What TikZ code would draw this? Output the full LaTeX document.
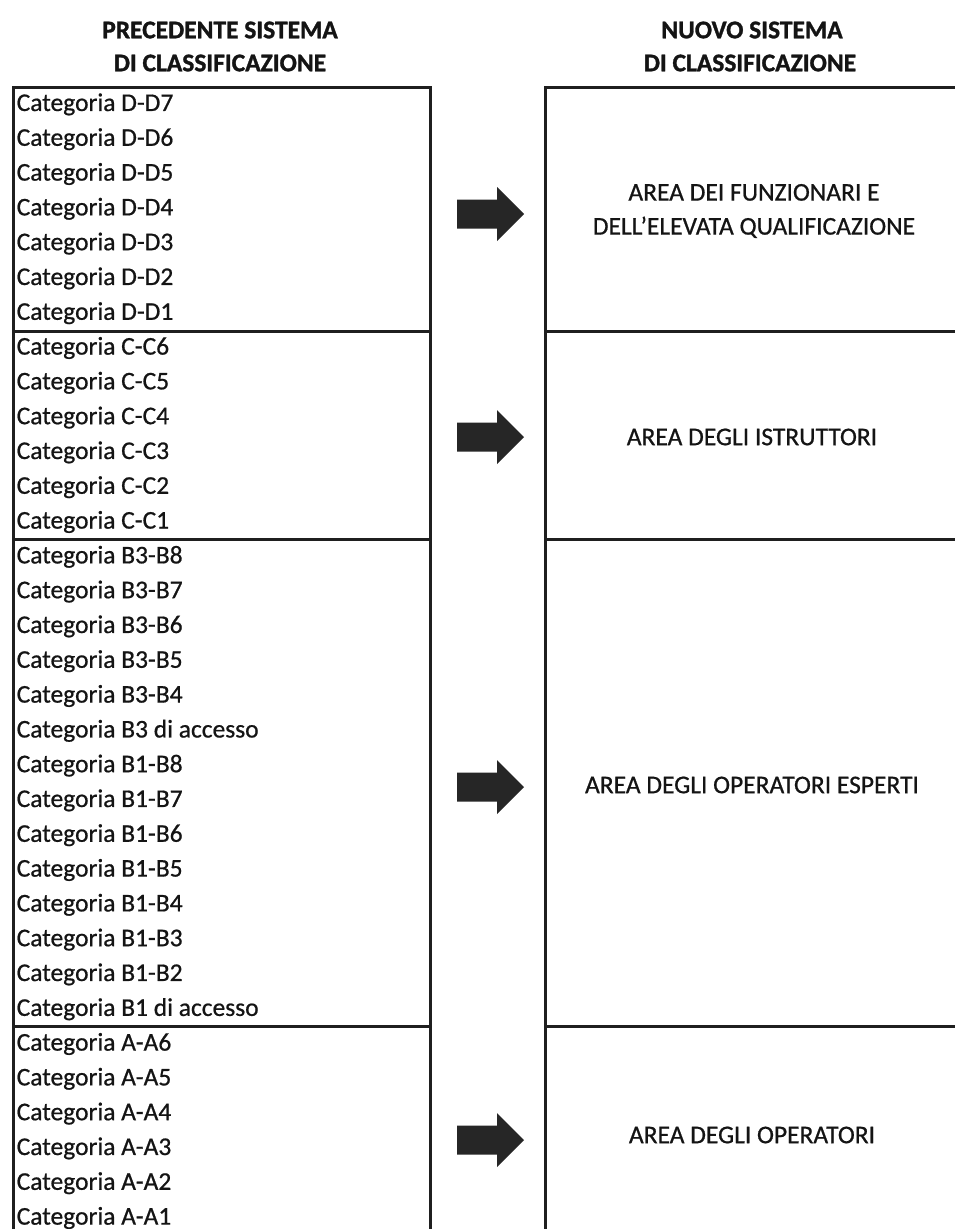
\documentclass[tikz,border=0pt]{standalone}
\usepackage{fontspec}
\setmainfont{Carlito}[FakeBold=0.7]
\newfontfamily\headfont{Carlito}[UprightFont=*-Bold, FakeBold=1.2]
\begin{document}
\begin{tikzpicture}[x=1pt,y=-1pt,
  frameline/.style={line width=3pt, draw=black!88, line cap=rect},
  item/.style={anchor=west, inner sep=0pt, text=black!92, font=\fontsize{25.5}{30}\selectfont},
  header/.style={anchor=center, inner sep=0pt, text=black!92, font=\fontsize{25.5}{30}\selectfont\headfont},
  areatext/.style={anchor=center, inner sep=0pt, align=center, text=black!92, font=\fontsize{25.5}{34}\selectfont},
  arrowfill/.style={fill=black!85}]
\useasboundingbox (0,0) rectangle (954,1229);
\fill[white] (0,0) rectangle (954,1229);
% headers
\node[header] (h1a) at (220,30) {PRECEDENTE SISTEMA};
\node[header] (h1b) at (220,63) {DI CLASSIFICAZIONE};
\node[header] (h2a) at (752,30) {NUOVO SISTEMA};
\node[header] (h2b) at (750,63) {DI CLASSIFICAZIONE};
% left frame
\draw[frameline] (13,1235) -- (13,87) -- (430,87) -- (430,1235);
\foreach \yy in {331,539,1026} \draw[frameline] (13,\yy) -- (430,\yy);
% right frame
\draw[frameline] (960,87) -- (545,87) -- (545,1235);
\foreach \yy in {331,539,1026} \draw[frameline] (545,\yy) -- (960,\yy);
% items
\foreach \t [count=\i from 0] in {D-D7,D-D6,D-D5,D-D4,D-D3,D-D2,D-D1,
  C-C6,C-C5,C-C4,C-C3,C-C2,C-C1,
  B3-B8,B3-B7,B3-B6,B3-B5,B3-B4,B3 di accesso,
  B1-B8,B1-B7,B1-B6,B1-B5,B1-B4,B1-B3,B1-B2,B1 di accesso,
  A-A6,A-A5,A-A4,A-A3,A-A2,A-A1}
  \node[item] (it\i) at (16.5,{87+17.4+34.8*\i}) {Categoria \t};
% block arrows
\foreach \yy [count=\k] in {214,437,787,1140}
  \fill[arrowfill, shift={(0,\yy)}] (457,-14.5) -- (497,-14.5) -- (497,-27) -- (524,0) -- (497,27) -- (497,14.5) -- (457,14.5) -- cycle;
% area texts
\node[areatext] (ad) at (754,211) {AREA DEI FUNZIONARI E\\DELL’ELEVATA QUALIFICAZIONE};
\node[areatext] (ac) at (752,437) {AREA DEGLI ISTRUTTORI};
\node[areatext] (ab) at (752,785) {AREA DEGLI OPERATORI ESPERTI};
\node[areatext] (aa) at (752,1135) {AREA DEGLI OPERATORI};
\end{tikzpicture}
\end{document}
